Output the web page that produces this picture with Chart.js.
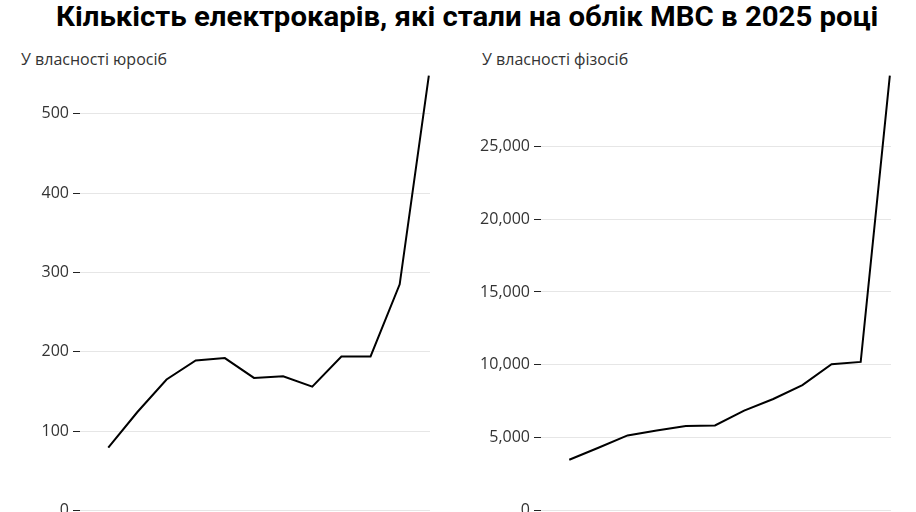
<!DOCTYPE html>
<html lang="uk">
<head>
<meta charset="utf-8">
<script src="https://cdn.jsdelivr.net/npm/chart.js@4"></script>
<style>
  html, body { margin: 0; padding: 0; background: #fff; overflow: hidden; }
  body { width: 916px; height: 512px; position: relative; font-family: "Open Sans", sans-serif; color: #333; }
  #title { position: absolute; left: 56px; top: 0px; white-space: nowrap; font-family: Roboto, "Open Sans", sans-serif;
           font-weight: 700; font-size: 28px; color: #000; transform-origin: 0 0; }
  .sub { position: absolute; top: 48px; font-size: 16px; color: #333; white-space: nowrap; }
  .box { position: absolute; top: 62px; height: 462px; }
</style>
</head>
<body>
<div id="title">Кількість електрокарів, які стали на облік МВС в 2025 році</div>
<div class="sub" style="left:21px">У власності юросіб</div>
<div class="sub" style="left:482px">У власності фізосіб</div>
<div class="box" style="left:0;width:460px"><canvas id="chartLegal"></canvas></div>
<div class="box" style="left:458px;width:458px"><canvas id="chartPrivate"></canvas></div>
<script>
// місяці 2025 року
const months = ['Січ', 'Лют', 'Бер', 'Кві', 'Тра', 'Чер', 'Лип', 'Сер', 'Вер', 'Жов', 'Лис', 'Гру'];
// у власності юридичних осіб
const legalValues = [79, 124, 165, 189, 192, 167, 169, 156, 194, 194, 285, 548];
// у власності фізичних осіб
const privateValues = [3480, 4300, 5150, 5480, 5800, 5830, 6850, 7650, 8610, 10040, 10200, 29860];

// fit the title to its width in the picture
const title = document.getElementById('title');
title.style.transform = 'scaleX(' + (822 / title.scrollWidth) + ')';

const makeChart = (id, values, step, axisWidth, padRight) => {
    const data = {
        datasets: [{
            label: id,
            data: values.map((v, i) => ({ x: i + 1, y: v })),
            borderColor: '#000',
            borderWidth: 2,
            pointRadius: 0,
            tension: 0,
            fill: false
        }]
    };

    const config = {
        type: 'line',
        data: data,
        options: {
            responsive: true,
            maintainAspectRatio: false,
            animation: false,
            layout: { padding: { top: 12, bottom: 12, right: padRight, left: 0 } },
            plugins: { legend: { display: false }, tooltip: { enabled: false } },
            scales: {
                x: {
                    type: 'linear',
                    display: false,
                    min: 0.03,
                    max: 12.04
                },
                y: {
                    beginAtZero: true,
                    bounds: 'data',
                    border: { display: false },
                    grid: { color: '#e6e6e6', lineWidth: 1, tickColor: '#222', tickLength: 7 },
                    ticks: {
                        stepSize: step,
                        padding: 4,
                        color: '#333',
                        font: { family: 'Open Sans', size: 16, weight: 400 },
                        callback: v => v.toLocaleString('en-US')
                    },
                    // drop the extra tick that sits on the data maximum
                    afterBuildTicks: s => { s.ticks = s.ticks.filter(t => t.value % step === 0); },
                    afterFit: s => { s.width = axisWidth; }
                }
            }
        }
    };

    return new Chart(document.getElementById(id), config);
};

makeChart('chartLegal', legalValues, 100, 80, 30);
makeChart('chartPrivate', privateValues, 5000, 83, 25);
</script>
</body>
</html>
